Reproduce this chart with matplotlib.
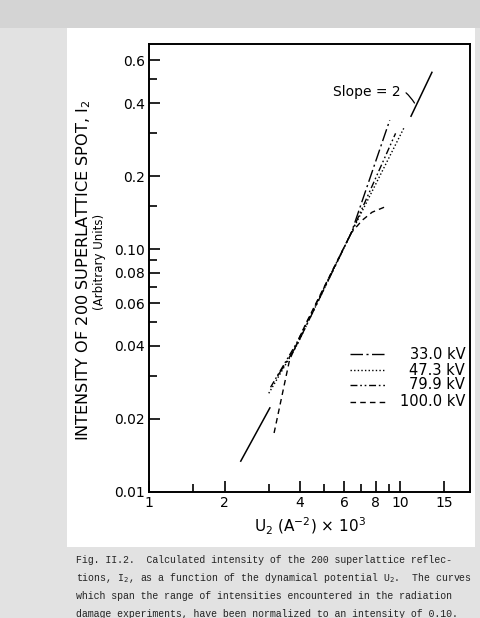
import matplotlib.pyplot as plt
from matplotlib.patches import Rectangle
from matplotlib.lines import Line2D
from matplotlib.ticker import FixedLocator, FixedFormatter, NullFormatter

# curves (U2 x 10^3, intensity)
u_33 = [3.25, 3.87, 6.4, 9.1]
i_33 = [0.030, 0.040, 0.117, 0.34]
u_47 = [3.0, 3.87, 6.4, 10.4]
i_47 = [0.0255, 0.040, 0.117, 0.318]
u_80 = [3.05, 3.87, 6.4, 9.6]
i_80 = [0.027, 0.041, 0.117, 0.30]
u_100 = [3.15, 3.63, 4.2, 6.4, 7.07, 7.74, 8.8]
i_100 = [0.0175, 0.035, 0.049, 0.117, 0.1316, 0.142, 0.150]
# slope = 2 reference line, drawn in two pieces
u_ref_lo = [2.32, 3.03]
i_ref_lo = [0.0134, 0.0222]
u_ref_hi = [11.06, 13.4]
i_ref_hi = [0.353, 0.535]

labels = ['33.0 kV', '47.3 kV', '79.9 kV', '100.0 kV']
styles = [(0, (9, 2.5, 1.5, 2.5)), (0, (1, 1.6)), (0, (5, 2, 1.2, 2, 1.2, 2)), (0, (4, 3))]

xticks = [1, 2, 4, 6, 8, 10, 15]
xminor = [1.5, 3, 5, 7, 9]
yticks = [0.01, 0.02, 0.04, 0.06, 0.08, 0.10, 0.2, 0.4, 0.6]
ytick_labels = ['0.01', '0.02', '0.04', '0.06', '0.08', '0.10', '0.2', '0.4', '0.6']
yminor = [0.03, 0.05, 0.07, 0.09, 0.15, 0.3, 0.5]

caption = ["Fig. II.2.  Calculated intensity of the 200 superlattice reflec-",
           "tions, I$_2$, as a function of the dynamical potential U$_2$.  The curves",
           "which span the range of intensities encountered in the radiation",
           "damage experiments, have been normalized to an intensity of 0.10."]

fig = plt.figure(figsize=(4.8, 6.18), dpi=100, facecolor='#e2e2e2')
fig.patches.append(Rectangle((0, 0.955), 1, 0.045, transform=fig.transFigure,
                             facecolor='#d4d4d4', edgecolor='none', zorder=-10))
fig.patches.append(Rectangle((67/480, 1-547/618), 408/480, 519/618, transform=fig.transFigure,
                             facecolor='white', edgecolor='none', zorder=-10))

ax = fig.add_axes([149/480, 1-492/618, 321/480, 448/618])
ax.set_zorder(2)
ax.set_xscale('log')
ax.set_yscale('log')
ax.set_xlim(1, 19)
ax.set_ylim(0.01, 0.7)

lw = 1.0
ax.plot(u_ref_lo, i_ref_lo, color='black', lw=1.1)
ax.plot(u_ref_hi, i_ref_hi, color='black', lw=1.1)
for u, i, ls in zip([u_33, u_47, u_80, u_100], [i_33, i_47, i_80, i_100], styles):
    ax.plot(u, i, color='black', lw=lw, linestyle=ls)

ax.annotate('Slope = 2', xy=(11.57, 0.391), xytext=(10.1, 0.443), ha='right', va='center',
            fontsize=10, arrowprops=dict(arrowstyle='-', lw=0.9, connectionstyle='arc3,rad=-0.5'))

# legend drawn by hand so the labels line up on the right
rows = [0.308, 0.272, 0.239, 0.201]
for y, ls, lab in zip(rows, styles, labels):
    ax.add_line(Line2D([0.626, 0.738], [y, y], transform=ax.transAxes, color='black', lw=lw, linestyle=ls))
    ax.text(0.985, y, lab, transform=ax.transAxes, ha='right', va='center', fontsize=10.5)

ax.xaxis.set_major_locator(FixedLocator(xticks))
ax.xaxis.set_major_formatter(FixedFormatter([str(t) for t in xticks]))
ax.xaxis.set_minor_locator(FixedLocator(xminor))
ax.xaxis.set_minor_formatter(NullFormatter())
ax.yaxis.set_major_locator(FixedLocator(yticks))
ax.yaxis.set_major_formatter(FixedFormatter(ytick_labels))
ax.yaxis.set_minor_locator(FixedLocator(yminor))
ax.yaxis.set_minor_formatter(NullFormatter())
ax.tick_params(which='major', direction='in', length=8, width=1.2, labelsize=10, pad=3)
ax.tick_params(which='minor', direction='in', length=6, width=1.2)
for s in ax.spines.values():
    s.set_linewidth(1.4)

ax.set_xlabel('U$_2$ (A$^{-2}$) $\\times$ 10$^3$', fontsize=11, labelpad=4)
fig.text(84/480, 1-270/618, 'INTENSITY OF 200 SUPERLATTICE SPOT, I$_2$', rotation=90,
         ha='center', va='center', fontsize=11.6)
fig.text(100/480, 1-262/618, '(Arbitrary Units)', rotation=90, ha='center', va='center', fontsize=8.5)

for k, line in enumerate(caption):
    fig.text(76/480, 1-(560+18*k)/618, line, family='Liberation Mono', fontsize=7.1,
             color='#222222', ha='left', va='center')

fig.savefig('out.png', dpi=100, facecolor=fig.get_facecolor())
